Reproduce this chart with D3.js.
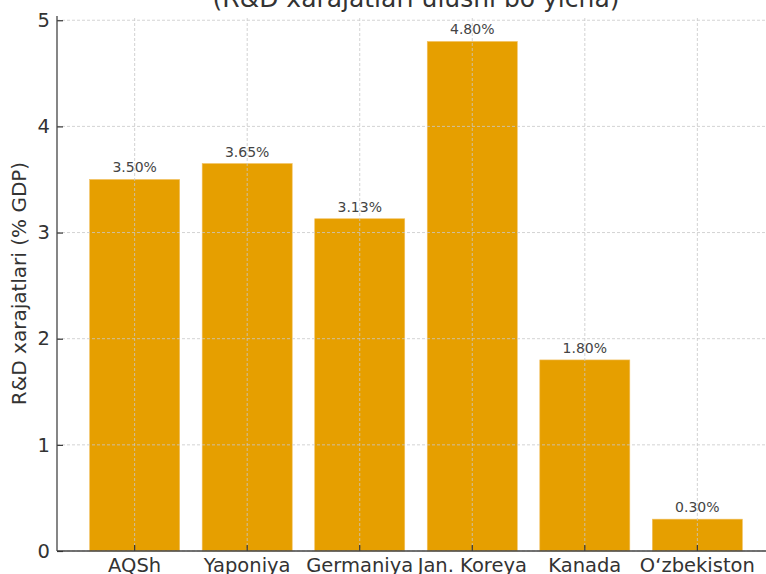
<!DOCTYPE html>
<html>
<head>
<meta charset="utf-8">
<script src="https://cdn.jsdelivr.net/npm/d3@7"></script>
<style>
  body { margin: 0; background: #fff; }
  svg { display: block; font-family: "DejaVu Sans", sans-serif; }
  .grid line { stroke: #c8c8c8; stroke-width: 0.8; stroke-dasharray: 3,2; }
</style>
</head>
<body>
<div id="chart"></div>
<script>
const countries = ['AQSh', 'Yaponiya', 'Germaniya', 'Jan. Koreya', 'Kanada', 'O\u2018zbekiston']
const rdShare = [3.50, 3.65, 3.13, 4.80, 1.80, 0.30]
const yTicks = [0, 1, 2, 3, 4, 5]

const width = 766
const height = 574
const margin = {top: 16, bottom: 23, left: 57, right: -9}

const svg = d3.select('#chart').append('svg')
  .attr('width', width)
  .attr('height', height)

const x = d3.scaleBand()
  .domain(countries)
  .range([margin.left, width - margin.right])
  .paddingInner(0.2)
  .paddingOuter(0.29)

const y = d3.scaleLinear()
  .domain([0, 5.04])
  .range([height - margin.bottom, margin.top])

const data = countries.map((c, i) => ({country: c, value: rdShare[i]}))

// bars
svg.append('g')
  .selectAll('rect')
  .data(data)
  .enter()
  .append('rect')
  .attr('x', d => x(d.country))
  .attr('y', d => y(d.value))
  .attr('width', x.bandwidth())
  .attr('height', d => y(0) - y(d.value))
  .attr('fill', '#E69F00')
  .attr('stroke', '#f2c060')
  .attr('stroke-width', 0.6)

// grid on top of bars, like the original
const grid = svg.append('g').attr('class', 'grid')
grid.selectAll('.hgrid')
  .data(yTicks)
  .enter()
  .append('line')
  .attr('class', 'hgrid')
  .attr('x1', margin.left)
  .attr('x2', width)
  .attr('y1', d => y(d))
  .attr('y2', d => y(d))
grid.selectAll('.vgrid')
  .data(countries)
  .enter()
  .append('line')
  .attr('class', 'vgrid')
  .attr('x1', d => x(d) + x.bandwidth() / 2)
  .attr('x2', d => x(d) + x.bandwidth() / 2)
  .attr('y1', y.range()[0])
  .attr('y2', y.range()[1])

// value labels
svg.append('g')
  .selectAll('text')
  .data(data)
  .enter()
  .append('text')
  .attr('x', d => x(d.country) + x.bandwidth() / 2)
  .attr('y', d => y(d.value) - 7)
  .attr('text-anchor', 'middle')
  .attr('fill', '#444')
  .attr('font-size', 14)
  .text(d => d.value.toFixed(2) + '%')

// axes
const xAxis = svg.append('g')
  .attr('transform', `translate(0, ${y(0)})`)
  .call(d3.axisBottom(x).tickSize(-6))
xAxis.select('.domain').remove()
xAxis.append('line')
  .attr('x1', margin.left)
  .attr('x2', width)
  .attr('stroke', '#444')
  .attr('stroke-width', 1.3)
xAxis.selectAll('.tick line').attr('stroke', '#333').attr('stroke-width', 1.2)
xAxis.selectAll('.tick text')
  .attr('y', 21)
  .attr('dy', null)
  .attr('font-size', 19.5)
  .attr('font-family', '"DejaVu Sans", sans-serif')
  .attr('fill', '#333')

const yAxis = svg.append('g')
  .attr('transform', `translate(${margin.left}, 0)`)
  .call(d3.axisLeft(y).tickValues(yTicks).tickFormat(d3.format('d')).tickSize(-6).tickPadding(7))
yAxis.select('.domain').remove()
yAxis.append('line')
  .attr('y1', y.range()[0])
  .attr('y2', y.range()[1])
  .attr('stroke', '#444')
  .attr('stroke-width', 1.3)
yAxis.selectAll('.tick line').attr('stroke', '#333').attr('stroke-width', 1.2)
yAxis.selectAll('.tick text')
  .attr('font-size', 19.5)
  .attr('font-family', '"DejaVu Sans", sans-serif')
  .attr('fill', '#333')

// y label
svg.append('text')
  .attr('transform', `translate(26, ${(y.range()[0] + y.range()[1]) / 2}) rotate(-90)`)
  .attr('text-anchor', 'middle')
  .attr('font-size', 20)
  .attr('fill', '#333')
  .text('R&D xarajatlari (% GDP)')

// title, second line (first line sits above the visible frame)
svg.append('text')
  .attr('x', (margin.left + width - margin.right) / 2)
  .attr('y', 7)
  .attr('text-anchor', 'middle')
  .attr('font-size', 25)
  .attr('fill', '#333')
  .text('(R&D xarajatlari ulushi bo\u2018yicha)')
</script>
</body>
</html>
